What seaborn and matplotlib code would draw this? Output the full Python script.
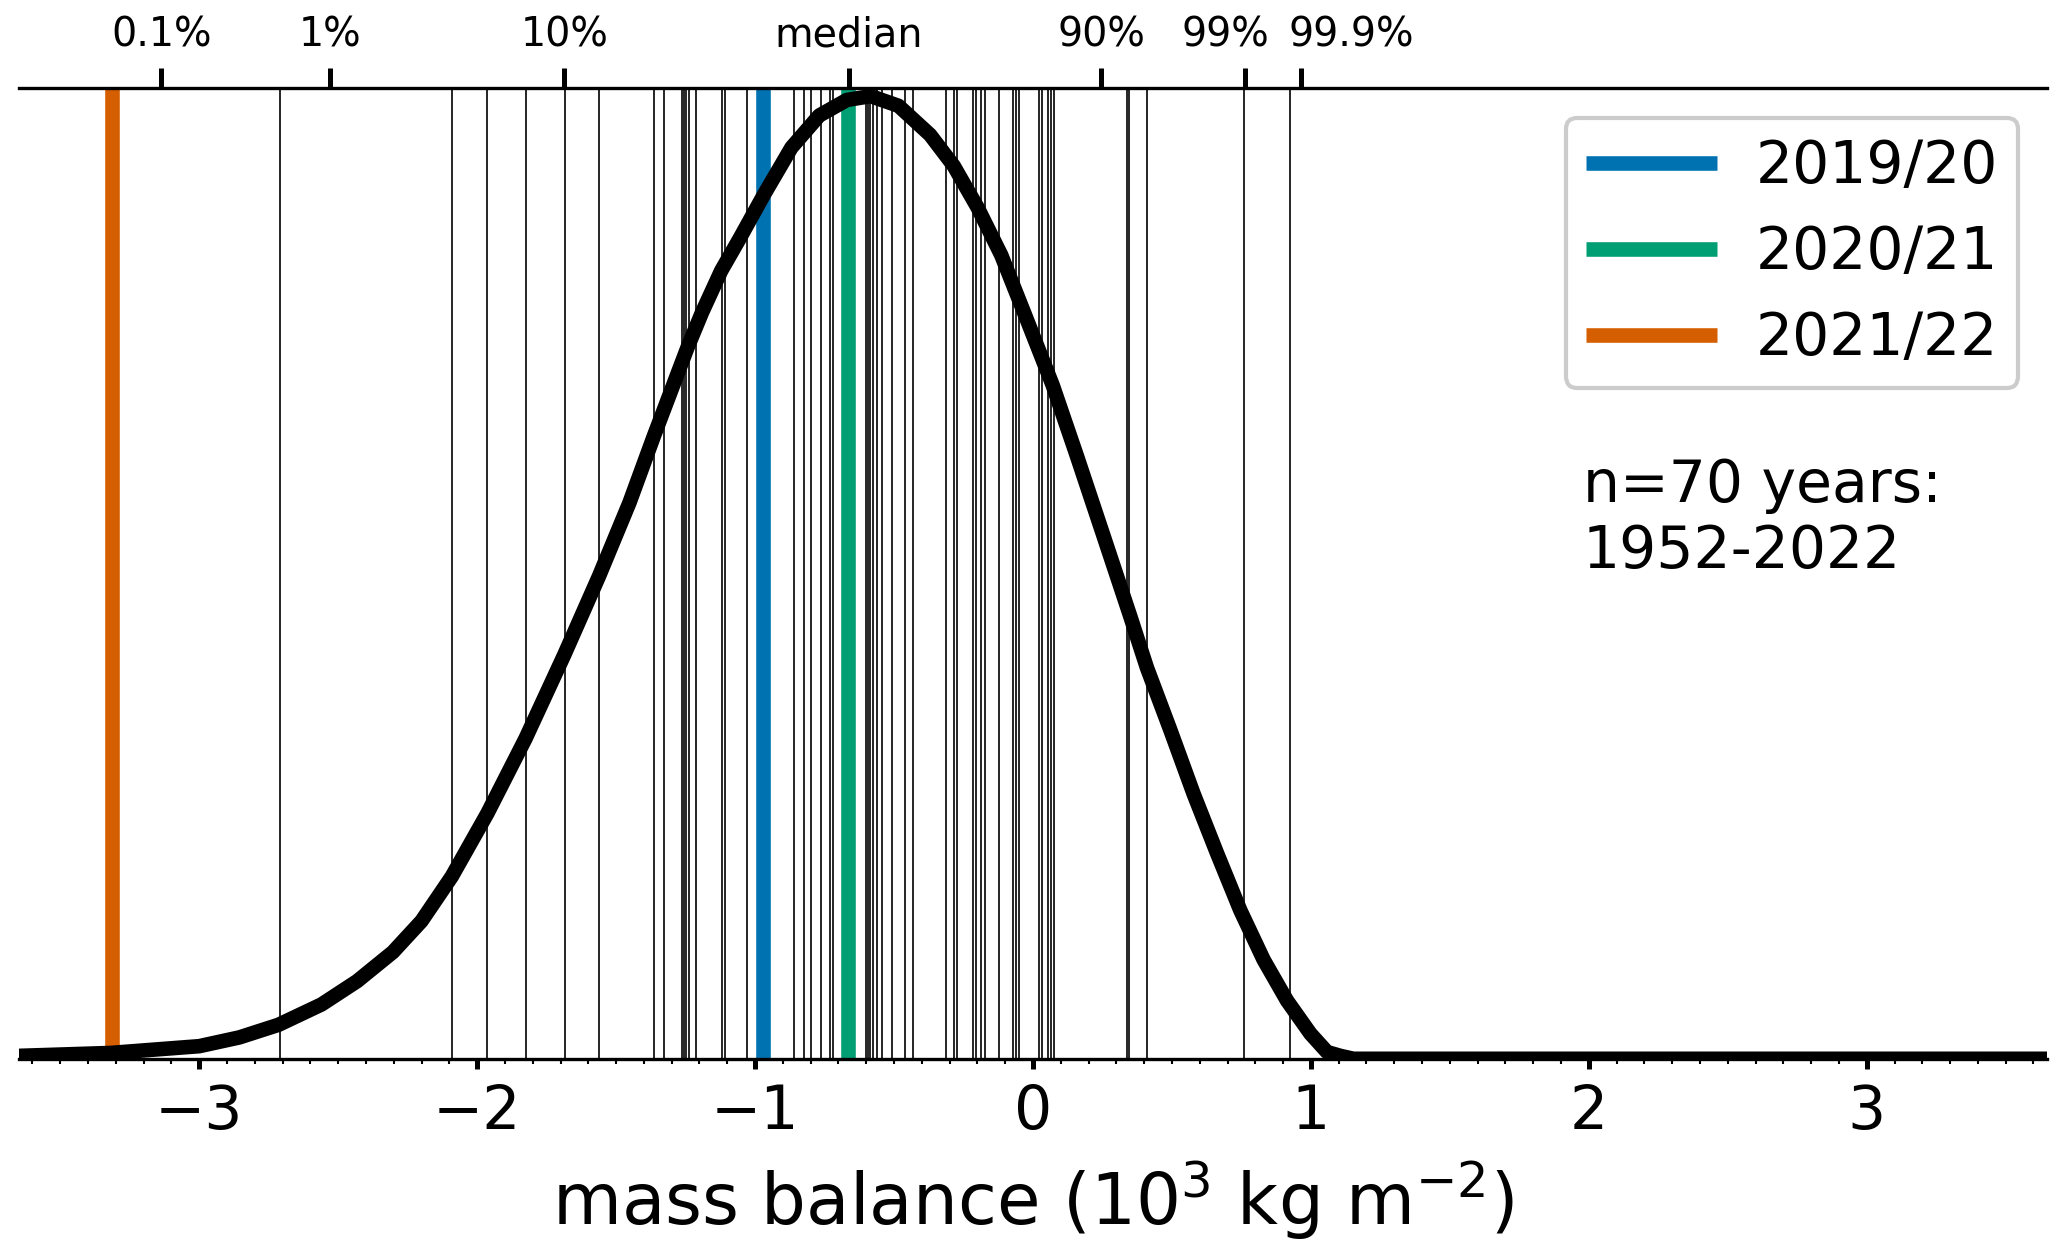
import numpy as np
import pandas as pd
import matplotlib
matplotlib.use("Agg")
import matplotlib.pyplot as plt
from matplotlib.transforms import ScaledTranslation
import seaborn as sns

# annual mass balance values (10^3 kg m^-2)
years_mb = [-2.711, -2.091, -1.963, -1.826, -1.683, -1.562, -1.364, -1.327,
            -1.264, -1.255, -1.247, -1.239, -1.211, -1.120, -1.108, -1.029,
            -0.860, -0.825, -0.798, -0.763, -0.731, -0.720, -0.602, -0.594,
            -0.585, -0.576, -0.562, -0.543, -0.508, -0.460, -0.430, -0.313,
            -0.285, -0.274, -0.216, -0.204, -0.188, -0.173, -0.121, -0.072,
            -0.060, -0.049, 0.022, 0.033, 0.054, 0.066, 0.077, 0.339, 0.345,
            0.412, 0.761, 0.925]

# highlighted years
hl_labels = ["2019/20", "2020/21", "2021/22"]
hl_values = [-0.970, -0.667, -3.315]
hl_colors = ["#0072B2", "#009E73", "#D55E00"]

# fitted distribution (relative density)
curve_x = [-3.65, -3.32, -3.0, -2.856, -2.715, -2.56, -2.432, -2.303, -2.20,
           -2.091, -1.963, -1.826, -1.687, -1.562, -1.452, -1.365, -1.243,
           -1.191, -1.122, -1.054, -0.969, -0.869, -0.769, -0.670, -0.584,
           -0.484, -0.370, -0.285, -0.199, -0.114, -0.028, 0.071, 0.157,
           0.256, 0.350, 0.410, 0.494, 0.578, 0.662, 0.746, 0.830, 0.914,
           0.998, 1.058, 1.106, 1.153, 3.65]
curve_y = [0.003, 0.006, 0.013, 0.022, 0.035, 0.056, 0.080, 0.110, 0.142,
           0.188, 0.253, 0.330, 0.416, 0.497, 0.573, 0.641, 0.733, 0.769,
           0.812, 0.846, 0.890, 0.939, 0.972, 0.988, 0.992, 0.982, 0.952,
           0.920, 0.877, 0.828, 0.766, 0.694, 0.622, 0.537, 0.456, 0.403,
           0.339, 0.273, 0.212, 0.153, 0.102, 0.060, 0.026, 0.007, 0.003,
           0.0, 0.0]

# percentiles of the fit (top axis)
pct_labels = ["0.1%", "1%", "10%", "median", "90%", "99%", "99.9%"]
pct_values = [-3.136, -2.530, -1.686, -0.662, 0.245, 0.762, 0.966]
pct_shift_pt = [0, 0, 0, 0, 0, -4.6, 11.9]

sns.set_style("ticks", {"text.color": "black", "axes.labelcolor": "black",
                        "xtick.color": "black", "axes.edgecolor": "black"})
plt.rcParams["font.family"] = ["DejaVu Sans"]
plt.rcParams["lines.solid_capstyle"] = "butt"

fig = plt.figure(figsize=(2067 / 300, 1253 / 300), dpi=300)
ax = fig.add_axes([0.009, 0.155, 0.9815, 0.7745])

for v in years_mb:
    ax.axvline(v, color="black", lw=0.4, zorder=1)
for lab, v, c in zip(hl_labels, hl_values, hl_colors):
    ax.axvline(v, color=c, lw=3.5, label=lab, zorder=2)

df = pd.DataFrame({"x": curve_x, "y": curve_y})
sns.lineplot(data=df, x="x", y="y", color="black", lw=3.5, ax=ax, zorder=3,
             legend=False)

ax.set_xlim(-3.65, 3.65)
ax.set_ylim(0, 1.0)
ax.set_yticks([])
ax.set_ylabel("")
for s in ["left", "right"]:
    ax.spines[s].set_visible(False)
ax.spines["top"].set_linewidth(0.8)
ax.spines["bottom"].set_linewidth(0.8)

ax.set_xticks([-3, -2, -1, 0, 1, 2, 3])
ax.set_xticklabels(["\u22123", "\u22122", "\u22121", "0", "1", "2", "3"])
ax.set_xticks(np.arange(-36, 37) / 10, minor=True)
ax.tick_params(axis="x", which="major", length=2.3, width=1.2, labelsize=14.4,
               direction="out")
ax.tick_params(axis="x", which="minor", length=1.2, width=0.5)
ax.set_xlabel("mass balance (10$^3$ kg m$^{-2}$)", fontsize=17)

top = ax.secondary_xaxis("top")
top.set_xticks(pct_values, pct_labels)
top.tick_params(axis="x", length=4.8, width=1.2, labelsize=9.5, pad=3)
top.spines["top"].set_visible(False)
for lab, dx in zip(top.get_xticklabels(), pct_shift_pt):
    lab.set_transform(lab.get_transform()
                      + ScaledTranslation(dx / 72, 0, fig.dpi_scale_trans))

ax.legend(loc="upper right", fontsize=14, handlelength=2.25,
          handletextpad=0.65, borderpad=0.35, frameon=True, fancybox=True,
          edgecolor="#cccccc", framealpha=1)

ax.text(0.771, 0.62, "n=70 years:\n1952-2022", transform=ax.transAxes,
        fontsize=14, va="top", ha="left")

fig.savefig("out.png", dpi=300)
